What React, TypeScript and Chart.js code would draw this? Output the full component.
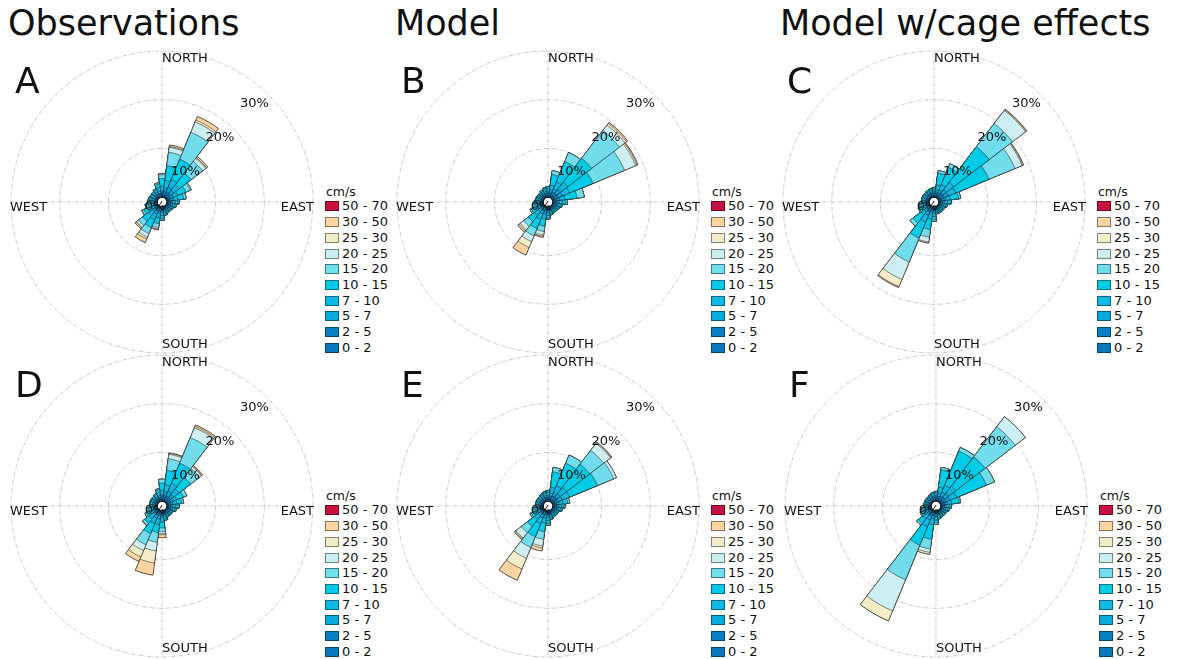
import React, { useEffect, useRef } from 'react';
import { Chart, registerables } from 'chart.js';

Chart.register(...registerables);

// ---- categories ----
const directions = ['0°', '15°', '30°', '45°', '60°', '75°', '90°', '105°', '120°', '135°', '150°', '165°',
  '180°', '195°', '210°', '225°', '240°', '255°', '270°', '285°', '300°', '315°', '330°', '345°'];
const speedBins = ['0 - 2', '2 - 5', '5 - 7', '7 - 10', '10 - 15', '15 - 20', '20 - 25', '25 - 30', '30 - 50', '50 - 70'];
const binColors = ['#0b78bc', '#0880c3', '#08a9dd', '#0cbbe5', '#00cce8', '#70dcec', '#cdeef2', '#f3ecc8', '#fdd3a1', '#c8103f'];
const columnTitles = ['Observations', 'Model', 'Model w/cage effects'];
const panelLetters = ['A', 'B', 'C', 'D', 'E', 'F'];
const cardinalLabels = ['NORTH', 'EAST', 'SOUTH', 'WEST'];
const radialTicks = [0, 10, 20, 30];
const legendTitle = 'cm/s';

// ---- frequency (%) per direction (rows) and speed bin (columns, 0-2 ... 50-70) ----
const freqA = [
  [0.3, 0.5, 0.5, 0.9, 1.6, 0.8, 0.2],
  [0.4, 0.8, 0.8, 1.5, 3.0, 2.8, 1.0, 0.2, 0.3],
  [0.4, 0.9, 1.0, 1.7, 4.5, 6.0, 2.3, 0.4, 0.8],
  [0.4, 0.8, 0.8, 1.5, 3.0, 3.0, 0.8, 0.2, 0.3],
  [0.3, 0.6, 0.6, 1.0, 1.8, 1.0, 0.2],
  [0.3, 0.6, 0.5, 0.9, 1.2, 0.5],
  [0.3, 0.5, 0.4, 0.6, 0.5, 0.2],
  [0.3, 0.5, 0.4, 0.5, 0.3],
  [0.3, 0.4, 0.3, 0.4, 0.2],
  [0.3, 0.4, 0.3, 0.3, 0.2],
  [0.3, 0.4, 0.3, 0.3, 0.2],
  [0.3, 0.4, 0.4, 0.4, 0.3],
  [0.3, 0.5, 0.4, 0.6, 0.6, 0.3, 0.1],
  [0.3, 0.6, 0.5, 0.9, 1.2, 0.8, 0.3, 0.1, 0.1],
  [0.3, 0.7, 0.7, 1.2, 1.8, 1.3, 0.8, 0.4, 0.8],
  [0.3, 0.6, 0.6, 1.0, 1.5, 1.1, 0.5, 0.1, 0.3],
  [0.3, 0.5, 0.5, 0.8, 0.9, 0.4, 0.1],
  [0.3, 0.5, 0.4, 0.6, 0.5, 0.2],
  [0.3, 0.5, 0.4, 0.5, 0.3],
  [0.3, 0.4, 0.4, 0.4, 0.3],
  [0.3, 0.4, 0.3, 0.4, 0.3],
  [0.3, 0.4, 0.3, 0.4, 0.3],
  [0.3, 0.5, 0.4, 0.5, 0.3],
  [0.3, 0.5, 0.5, 0.7, 0.7, 0.3],
];

const freqB = [
  [0.3, 0.5, 0.4, 0.6, 0.4],
  [0.3, 0.6, 0.6, 1.0, 2.2, 0.8],
  [0.4, 0.8, 0.8, 1.5, 4.5, 2.0],
  [0.4, 0.9, 1.0, 1.8, 6.2, 7.2, 1.4, 0.4, 0.3],
  [0.4, 0.9, 0.9, 1.6, 5.2, 7.0, 2.5, 0.3, 0.2],
  [0.3, 0.6, 0.6, 1.0, 2.5, 1.5],
  [0.3, 0.5, 0.5, 0.7, 0.7, 0.3],
  [0.3, 0.5, 0.4, 0.5, 0.3],
  [0.3, 0.4, 0.3, 0.4, 0.2],
  [0.3, 0.4, 0.3, 0.3, 0.2],
  [0.3, 0.4, 0.3, 0.3, 0.2],
  [0.3, 0.4, 0.3, 0.4, 0.3],
  [0.3, 0.5, 0.4, 0.6, 0.5, 0.2],
  [0.3, 0.6, 0.6, 1.0, 1.5, 1.1, 0.7, 0.3, 0.2],
  [0.3, 0.7, 0.7, 1.2, 2.0, 1.6, 1.3, 1.3, 1.7],
  [0.3, 0.6, 0.6, 1.0, 1.6, 1.2, 0.9, 0.3, 0.3],
  [0.3, 0.5, 0.5, 0.7, 0.7, 0.3],
  [0.3, 0.5, 0.4, 0.6, 0.4],
  [0.3, 0.4, 0.4, 0.4, 0.3],
  [0.3, 0.4, 0.3, 0.4, 0.2],
  [0.3, 0.4, 0.3, 0.3, 0.2],
  [0.3, 0.4, 0.3, 0.3, 0.2],
  [0.3, 0.4, 0.3, 0.4, 0.3],
  [0.3, 0.5, 0.4, 0.5, 0.3],
];

const freqC = [
  [0.3, 0.5, 0.4, 0.5, 0.3],
  [0.3, 0.6, 0.6, 1.0, 2.5, 0.5],
  [0.3, 0.7, 0.7, 1.2, 3.8, 0.8],
  [0.4, 0.9, 1.0, 1.8, 9.2, 6.0, 3.4, 0.2, 0.1],
  [0.4, 0.9, 0.9, 1.6, 7.4, 5.8, 1.6, 0.2, 0.1],
  [0.3, 0.6, 0.5, 0.9, 1.8, 0.4],
  [0.3, 0.5, 0.4, 0.6, 0.7],
  [0.3, 0.4, 0.4, 0.4, 0.3],
  [0.3, 0.4, 0.3, 0.3, 0.2],
  [0.3, 0.4, 0.3, 0.3, 0.2],
  [0.3, 0.4, 0.3, 0.3, 0.2],
  [0.3, 0.4, 0.3, 0.3, 0.2],
  [0.3, 0.5, 0.5, 0.7, 0.7, 0.3],
  [0.3, 0.6, 0.6, 1.0, 2.2, 1.6, 1.0, 0.2],
  [0.4, 0.8, 0.8, 1.5, 3.5, 5.3, 3.9, 1.6, 0.2],
  [0.3, 0.6, 0.6, 0.9, 2.0, 0.8],
  [0.3, 0.5, 0.4, 0.6, 0.5, 0.2],
  [0.3, 0.5, 0.4, 0.5, 0.3],
  [0.3, 0.4, 0.3, 0.4, 0.2],
  [0.3, 0.4, 0.3, 0.4, 0.2],
  [0.3, 0.4, 0.3, 0.4, 0.2],
  [0.3, 0.4, 0.3, 0.4, 0.2],
  [0.3, 0.4, 0.3, 0.4, 0.3],
  [0.3, 0.4, 0.4, 0.4, 0.3],
];

const freqD = [
  [0.3, 0.5, 0.5, 0.9, 1.5, 0.8],
  [0.4, 0.8, 0.8, 1.4, 3.0, 2.4, 0.9, 0.2, 0.1],
  [0.4, 0.9, 1.0, 1.7, 4.5, 5.7, 2.2, 0.3, 0.3],
  [0.4, 0.8, 0.8, 1.4, 3.0, 2.3, 0.5, 0.1, 0.2],
  [0.3, 0.6, 0.5, 0.9, 1.5, 0.7],
  [0.3, 0.5, 0.5, 0.8, 1.0, 0.4],
  [0.3, 0.5, 0.4, 0.6, 0.5, 0.2],
  [0.3, 0.5, 0.4, 0.5, 0.3],
  [0.3, 0.4, 0.3, 0.3, 0.2],
  [0.3, 0.4, 0.3, 0.3, 0.2],
  [0.3, 0.4, 0.3, 0.3, 0.2],
  [0.3, 0.5, 0.4, 0.5, 0.3],
  [0.3, 0.6, 0.5, 0.9, 1.2, 0.8, 0.4, 0.2, 0.6],
  [0.3, 0.7, 0.7, 1.2, 1.6, 2.0, 1.8, 2.5, 2.5],
  [0.3, 0.7, 0.7, 1.2, 2.2, 2.5, 1.3, 1.4, 1.0],
  [0.3, 0.6, 0.5, 0.9, 1.2, 0.5, 0.1],
  [0.3, 0.5, 0.4, 0.7, 0.6, 0.3],
  [0.3, 0.5, 0.4, 0.6, 0.4],
  [0.3, 0.4, 0.3, 0.4, 0.2],
  [0.3, 0.4, 0.3, 0.4, 0.2],
  [0.3, 0.4, 0.3, 0.4, 0.2],
  [0.3, 0.4, 0.3, 0.4, 0.2],
  [0.3, 0.4, 0.4, 0.4, 0.3],
  [0.3, 0.5, 0.4, 0.6, 0.6, 0.2],
];

const freqE = [
  [0.3, 0.5, 0.4, 0.6, 0.4],
  [0.3, 0.7, 0.7, 1.2, 3.2, 0.9],
  [0.4, 0.8, 0.8, 1.5, 5.0, 1.8],
  [0.4, 0.9, 0.9, 1.6, 6.0, 3.6, 1.8, 0.2, 0.1],
  [0.4, 0.9, 0.9, 1.6, 6.2, 3.6, 0.6],
  [0.3, 0.5, 0.5, 0.8, 1.0, 0.4],
  [0.3, 0.5, 0.4, 0.6, 0.5, 0.2],
  [0.3, 0.5, 0.4, 0.5, 0.3],
  [0.3, 0.4, 0.3, 0.3, 0.2],
  [0.3, 0.4, 0.3, 0.3, 0.2],
  [0.3, 0.4, 0.3, 0.3, 0.2],
  [0.3, 0.4, 0.4, 0.4, 0.3],
  [0.3, 0.5, 0.5, 0.7, 0.6, 0.3, 0.1],
  [0.3, 0.6, 0.6, 1.0, 1.8, 1.6, 1.4, 0.4, 0.6],
  [0.3, 0.7, 0.7, 1.3, 2.8, 2.4, 2.4, 2.4, 2.5],
  [0.3, 0.6, 0.6, 1.0, 1.8, 1.6, 1.4, 0.2, 0.2],
  [0.3, 0.5, 0.5, 0.7, 0.7, 0.3],
  [0.3, 0.5, 0.4, 0.6, 0.4],
  [0.3, 0.4, 0.3, 0.4, 0.2],
  [0.3, 0.4, 0.3, 0.4, 0.2],
  [0.3, 0.4, 0.3, 0.4, 0.2],
  [0.3, 0.4, 0.3, 0.4, 0.2],
  [0.3, 0.4, 0.4, 0.4, 0.3],
  [0.3, 0.5, 0.4, 0.5, 0.3],
];

const freqF = [
  [0.3, 0.5, 0.4, 0.5, 0.3],
  [0.3, 0.7, 0.7, 1.2, 3.6, 0.5],
  [0.4, 0.8, 0.9, 1.5, 7.6, 0.8],
  [0.4, 0.9, 1.0, 1.8, 7.6, 7.8, 2.6],
  [0.4, 0.8, 0.9, 1.5, 6.6, 1.8],
  [0.3, 0.6, 0.5, 0.9, 1.5, 0.3],
  [0.3, 0.5, 0.4, 0.6, 0.4],
  [0.3, 0.4, 0.4, 0.4, 0.3],
  [0.3, 0.4, 0.3, 0.3, 0.2],
  [0.3, 0.4, 0.3, 0.3, 0.2],
  [0.3, 0.4, 0.3, 0.3, 0.2],
  [0.3, 0.4, 0.3, 0.4, 0.3],
  [0.3, 0.5, 0.4, 0.7, 0.6, 0.3],
  [0.3, 0.7, 0.7, 1.2, 3.0, 2.0, 0.7, 0.4],
  [0.4, 0.8, 0.9, 1.5, 4.1, 7.7, 6.9, 2.2],
  [0.3, 0.6, 0.5, 0.9, 1.3, 0.4],
  [0.3, 0.5, 0.4, 0.6, 0.5, 0.2],
  [0.3, 0.5, 0.4, 0.5, 0.3],
  [0.3, 0.4, 0.3, 0.3, 0.2],
  [0.3, 0.4, 0.3, 0.3, 0.2],
  [0.3, 0.4, 0.3, 0.3, 0.2],
  [0.3, 0.4, 0.3, 0.3, 0.2],
  [0.3, 0.4, 0.3, 0.4, 0.2],
  [0.3, 0.4, 0.4, 0.4, 0.3],
];

const panelData = [freqA, freqB, freqC, freqD, freqE, freqF];

// ---- layout ----
const FONT = '"DejaVu Sans", Verdana, sans-serif';
const colCenters = [162, 548, 934];
const rowCenters = [202, 506];
const CANVAS = 320;
const RADIUS = 151;
const GRID_COLOR = '#b2b2b2';
const GRID_DASH = [4, 1.5, 1, 1.5];

const rosePlugin = {
  id: 'roseDecor',
  beforeDatasetsDraw(chart: any) {
    const s = chart.scales.r;
    const ctx = chart.ctx;
    const R = s.drawingArea;
    ctx.save();
    ctx.strokeStyle = GRID_COLOR;
    ctx.lineWidth = 0.7;
    ctx.setLineDash(GRID_DASH);
    ctx.beginPath();
    ctx.moveTo(s.xCenter - R, s.yCenter);
    ctx.lineTo(s.xCenter + R, s.yCenter);
    ctx.moveTo(s.xCenter, s.yCenter - R);
    ctx.lineTo(s.xCenter, s.yCenter + R);
    ctx.stroke();
    ctx.restore();
  },
  afterDatasetsDraw(chart: any) {
    const s = chart.scales.r;
    const ctx = chart.ctx;
    const R = s.drawingArea;
    const xc = s.xCenter;
    const yc = s.yCenter;
    ctx.save();
    // center hole
    const r0 = s.getDistanceFromCenterForValue(0);
    ctx.beginPath();
    ctx.arc(xc, yc, r0, 0, Math.PI * 2);
    ctx.fillStyle = '#ffffff';
    ctx.fill();
    ctx.lineWidth = 1.2;
    ctx.strokeStyle = '#111';
    ctx.stroke();
    // radial labels
    ctx.fillStyle = '#111';
    ctx.font = `13px ${FONT}`;
    ctx.textAlign = 'right';
    ctx.textBaseline = 'middle';
    radialTicks.forEach((v) => {
      const d = s.getDistanceFromCenterForValue(v);
      const x = xc + d * Math.SQRT1_2;
      const y = yc - d * Math.SQRT1_2;
      ctx.fillText(`${v}%`, x, y + 8);
    });
    // cardinal labels
    ctx.font = `13px ${FONT}`;
    ctx.textBaseline = 'middle';
    ctx.textAlign = 'left';
    ctx.fillText(cardinalLabels[0], xc, yc - R + 8);
    ctx.fillText(cardinalLabels[2], xc, yc + R - 8);
    ctx.fillText(cardinalLabels[3], xc - R - 1, yc + 6);
    ctx.textAlign = 'right';
    ctx.fillText(cardinalLabels[1], xc + R + 1, yc + 6);
    ctx.restore();
  },
};

function WindRose({ freq, cx, cy }: { freq: number[][]; cx: number; cy: number }) {
  const ref = useRef<HTMLCanvasElement>(null);
  useEffect(() => {
    if (!ref.current) return;
    const datasets = speedBins.map((bin, k) => ({
      label: bin,
      data: freq.map((row) => {
        let sum = 0;
        for (let j = 0; j <= k; j++) sum += row[j] ?? 0;
        return Math.round(sum * 100) / 100;
      }),
      backgroundColor: binColors[k],
      borderColor: 'rgba(25,25,25,0.85)',
      borderWidth: 0.6,
    }));
    const chart = new Chart(ref.current, {
      type: 'polarArea',
      data: { labels: directions, datasets },
      options: {
        responsive: false,
        maintainAspectRatio: false,
        animation: false,
        events: [],
        layout: { padding: (CANVAS - 2 * RADIUS) / 2 },
        plugins: { legend: { display: false }, tooltip: { enabled: false } },
        scales: {
          r: {
            min: -1,
            max: 30,
            startAngle: -7.5,
            afterBuildTicks: (scale: any) => {
              scale.ticks = [10, 20, 30].map((v) => ({ value: v }));
            },
            ticks: { display: false },
            grid: { display: true, circular: true, color: GRID_COLOR, lineWidth: 0.7 },
            border: { dash: GRID_DASH },
            angleLines: { display: false },
            pointLabels: { display: false },
          },
        },
      } as any,
      plugins: [rosePlugin],
    });
    return () => chart.destroy();
  }, [freq]);
  return (
    <canvas
      ref={ref}
      width={CANVAS}
      height={CANVAS}
      style={{ position: 'absolute', left: cx - CANVAS / 2, top: cy - CANVAS / 2, width: CANVAS, height: CANVAS }}
    />
  );
}

function SpeedLegend({ cx, cy }: { cx: number; cy: number }) {
  const rows = speedBins.map((b, i) => ({ label: b, color: binColors[i] })).reverse();
  return (
    <>
      <div style={{ position: 'absolute', left: cx + 164, top: cy - 17, font: `12.5px ${FONT}`, lineHeight: '14px', color: '#111', whiteSpace: 'nowrap' }}>
        {legendTitle}
      </div>
      {rows.map((r, i) => {
        const top = cy - 0.6 + i * 15.7;
        return (
          <React.Fragment key={r.label}>
            <div style={{ position: 'absolute', left: cx + 163, top, width: 14, height: 10, boxSizing: 'border-box', background: r.color, border: '1px solid rgba(0,0,0,0.45)' }} />
            <div style={{ position: 'absolute', left: cx + 180, top: top - 2, font: `13px ${FONT}`, lineHeight: '14px', color: '#111', whiteSpace: 'nowrap' }}>
              {r.label}
            </div>
          </React.Fragment>
        );
      })}
    </>
  );
}

export default function App() {
  return (
    <div style={{ position: 'fixed', left: 0, top: 0, width: 1179, height: 659, background: '#fff', overflow: 'hidden', fontFamily: FONT }}>
      {columnTitles.map((t, i) => (
        <div key={t} style={{ position: 'absolute', left: [8, 395, 780][i], top: 3, fontSize: 35, lineHeight: '40px', color: '#111', whiteSpace: 'nowrap' }}>
          {t}
        </div>
      ))}
      {panelData.map((freq, p) => {
        const cx = colCenters[p % 3] + (p === 5 ? 2 : 0);
        const cy = rowCenters[Math.floor(p / 3)];
        return (
          <React.Fragment key={p}>
            <WindRose freq={freq} cx={cx} cy={cy} />
            <SpeedLegend cx={cx} cy={cy} />
            <div style={{ position: 'absolute', left: cx - 147, top: cy - 139.5, fontSize: 36, lineHeight: '36px', color: '#111' }}>
              {panelLetters[p]}
            </div>
          </React.Fragment>
        );
      })}
    </div>
  );
}
